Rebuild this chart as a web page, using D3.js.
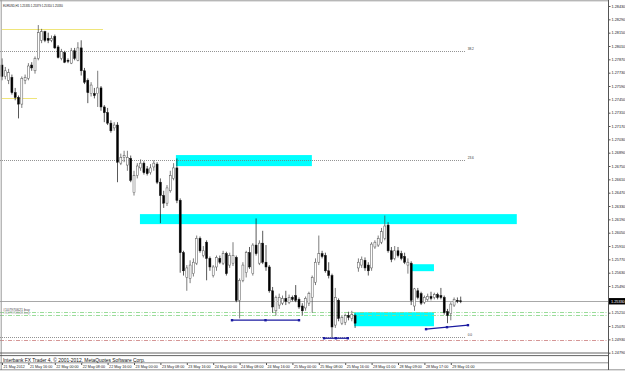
<!DOCTYPE html>
<html>
<head>
<meta charset="utf-8">
<script src="https://cdn.jsdelivr.net/npm/d3@7"></script>
<style>
html, body { margin: 0; padding: 0; background: #fff; }
svg { display: block; font-family: 'Liberation Sans', Arial, sans-serif; }
</style>
</head>
<body>
<svg id="chart"></svg>
<script>
'use strict';

const symbol = 'EURUSD,H1';
const copyright = 'Interbank FX Trader 4, \u00a9 2001-2012, MetaQuotes Software Corp.';

// one label every 8 bars
const timeLabels = ['21 May 2012', '21 May 16:00', '22 May 00:00', '22 May 08:00', '22 May 16:00',
    '23 May 00:00', '23 May 08:00', '23 May 16:00', '24 May 00:00', '24 May 08:00', '24 May 16:00',
    '25 May 00:00', '25 May 08:00', '25 May 16:00', '28 May 01:00', '28 May 09:00', '28 May 17:00',
    '29 May 01:00'];

const opens = [1.2781, 1.2769, 1.2765, 1.2768, 1.2752, 1.2747, 1.2740, 1.2765, 1.2767, 1.2781,
    1.2775, 1.2788, 1.2807, 1.2816, 1.2809, 1.2807, 1.2811, 1.2800, 1.2788, 1.2794,
    1.2786, 1.2783, 1.2796, 1.2786, 1.2799, 1.2775, 1.2765, 1.2751, 1.2751, 1.2751,
    1.2757, 1.2737, 1.2731, 1.2720, 1.2715, 1.2718, 1.2678, 1.2684, 1.2676, 1.2683,
    1.2647, 1.2665, 1.2673, 1.2678, 1.2672, 1.2668, 1.2674, 1.2677, 1.2658, 1.2644,
    1.2636, 1.2649, 1.2662, 1.2673, 1.2639, 1.2584, 1.2558, 1.2557, 1.2562, 1.2573,
    1.2599, 1.2581, 1.2595, 1.2578, 1.2560, 1.2569, 1.2578, 1.2573, 1.2583, 1.2571,
    1.2573, 1.2579, 1.2534, 1.2555, 1.2563, 1.2584, 1.2562, 1.2592, 1.2573, 1.2594,
    1.2574, 1.2569, 1.2544, 1.2523, 1.2529, 1.2531, 1.2536, 1.2532, 1.2537, 1.2539,
    1.2535, 1.2528, 1.2526, 1.2531, 1.2537, 1.2553, 1.2574, 1.2583, 1.2581, 1.2565,
    1.2560, 1.2508, 1.2534, 1.2510, 1.2511, 1.2518, 1.2515, 1.2518, 1.2568, 1.2571,
    1.2576, 1.2571, 1.2568, 1.2590, 1.2592, 1.2595, 1.2599, 1.2613, 1.2586, 1.2578,
    1.2586, 1.2583, 1.2580, 1.2571, 1.2573, 1.2528, 1.2544, 1.2541, 1.2532, 1.2535,
    1.2538, 1.2537, 1.2540, 1.2539, 1.2537, 1.2522, 1.2520, 1.2529, 1.2534, 1.25335];

const highs = [1.2788, 1.2779, 1.2777, 1.2771, 1.2757, 1.2749, 1.2769, 1.2771, 1.2783, 1.2784,
    1.2790, 1.2823, 1.2819, 1.2817, 1.2815, 1.2812, 1.2813, 1.2802, 1.2798, 1.2796,
    1.2788, 1.2799, 1.2799, 1.2805, 1.2807, 1.2778, 1.2767, 1.2763, 1.2757, 1.2775,
    1.2759, 1.2739, 1.2736, 1.2723, 1.2721, 1.2721, 1.2688, 1.2691, 1.2691, 1.2686,
    1.2670, 1.2678, 1.2682, 1.2680, 1.2675, 1.2677, 1.2681, 1.2679, 1.2662, 1.2649,
    1.2655, 1.2670, 1.2678, 1.2683, 1.2641, 1.2586, 1.2571, 1.2576, 1.2578, 1.2602,
    1.2601, 1.2591, 1.2597, 1.2580, 1.2571, 1.2581, 1.2581, 1.2586, 1.2585, 1.2584,
    1.2595, 1.2581, 1.2557, 1.2574, 1.2586, 1.2590, 1.2594, 1.2620, 1.2597, 1.2607,
    1.2592, 1.2571, 1.2548, 1.2539, 1.2541, 1.2539, 1.2544, 1.2540, 1.2539, 1.2550,
    1.2537, 1.2531, 1.2538, 1.2543, 1.2560, 1.2578, 1.2602, 1.2586, 1.2584, 1.2574,
    1.2562, 1.2547, 1.2536, 1.2518, 1.2520, 1.2522, 1.2523, 1.2520, 1.2578, 1.2580,
    1.2579, 1.2574, 1.2595, 1.2597, 1.2602, 1.2610, 1.2623, 1.2616, 1.2590, 1.2591,
    1.2590, 1.2586, 1.2584, 1.2578, 1.2575, 1.2547, 1.2547, 1.2543, 1.2539, 1.2541,
    1.2543, 1.2542, 1.2542, 1.2547, 1.2539, 1.2525, 1.2532, 1.2537, 1.2537, 1.25379];

const lows = [1.2765, 1.2766, 1.2761, 1.2750, 1.2744, 1.2725, 1.2736, 1.2761, 1.2765, 1.2775,
    1.2772, 1.2786, 1.2804, 1.2805, 1.2804, 1.2805, 1.2798, 1.2788, 1.2786, 1.2783,
    1.2783, 1.2782, 1.2786, 1.2785, 1.2770, 1.2761, 1.2741, 1.2748, 1.2746, 1.2737,
    1.2733, 1.2721, 1.2718, 1.2710, 1.2712, 1.2658, 1.2676, 1.2679, 1.2670, 1.2658,
    1.2644, 1.2662, 1.2670, 1.2666, 1.2665, 1.2666, 1.2670, 1.2656, 1.2615, 1.2631,
    1.2633, 1.2647, 1.2660, 1.2636, 1.2563, 1.2560, 1.2544, 1.2552, 1.2559, 1.2571,
    1.2584, 1.2579, 1.2555, 1.2565, 1.2558, 1.2565, 1.2572, 1.2571, 1.2560, 1.2568,
    1.2570, 1.2532, 1.2515, 1.2553, 1.2558, 1.2567, 1.2560, 1.2581, 1.2571, 1.2572,
    1.2565, 1.2542, 1.2521, 1.2518, 1.2525, 1.2529, 1.2529, 1.2530, 1.2533, 1.2532,
    1.2525, 1.2518, 1.2523, 1.2528, 1.2521, 1.2550, 1.2571, 1.2578, 1.2563, 1.2557,
    1.2495, 1.2505, 1.2512, 1.2508, 1.2508, 1.2513, 1.2512, 1.2505, 1.2564, 1.2568,
    1.2565, 1.2560, 1.2565, 1.2588, 1.2590, 1.2593, 1.2597, 1.2584, 1.2574, 1.2576,
    1.2579, 1.2576, 1.2572, 1.2562, 1.2529, 1.2523, 1.2535, 1.2529, 1.2530, 1.2533,
    1.2534, 1.2535, 1.2535, 1.2535, 1.2519, 1.2510, 1.2513, 1.2527, 1.2531, 1.25310];

const closes = [1.2769, 1.2775, 1.2773, 1.2752, 1.2747, 1.2740, 1.2767, 1.2768, 1.2780, 1.2778,
    1.2788, 1.2815, 1.2816, 1.2807, 1.2807, 1.2809, 1.2799, 1.2789, 1.2795, 1.2784,
    1.2785, 1.2796, 1.2788, 1.2799, 1.2775, 1.2763, 1.2752, 1.2760, 1.2749, 1.2757,
    1.2737, 1.2731, 1.2720, 1.2712, 1.2718, 1.2679, 1.2684, 1.2686, 1.2684, 1.2660,
    1.2665, 1.2675, 1.2678, 1.2668, 1.2667, 1.2673, 1.2678, 1.2658, 1.2644, 1.2636,
    1.2652, 1.2665, 1.2673, 1.2639, 1.2584, 1.2565, 1.2568, 1.2571, 1.2574, 1.2599,
    1.2586, 1.2586, 1.2578, 1.2569, 1.2569, 1.2579, 1.2574, 1.2583, 1.2562, 1.2581,
    1.2581, 1.2534, 1.2555, 1.2571, 1.2584, 1.2569, 1.2592, 1.2583, 1.2594, 1.2574,
    1.2569, 1.2544, 1.2527, 1.2537, 1.2537, 1.2536, 1.2533, 1.2537, 1.2535, 1.2534,
    1.2527, 1.2523, 1.2536, 1.2541, 1.2558, 1.2574, 1.2583, 1.2580, 1.2565, 1.2560,
    1.2506, 1.2537, 1.2515, 1.2516, 1.2518, 1.2516, 1.2519, 1.2510, 1.2574, 1.2577,
    1.2568, 1.2565, 1.2593, 1.2595, 1.2599, 1.2606, 1.2612, 1.2586, 1.2577, 1.2586,
    1.2581, 1.2578, 1.2574, 1.2574, 1.2534, 1.2546, 1.2537, 1.2531, 1.2537, 1.2538,
    1.2536, 1.2540, 1.2537, 1.2537, 1.2521, 1.2518, 1.2530, 1.2535, 1.2533, 1.25330];

const priceTicks = [1.28430, 1.28290, 1.28150, 1.28010, 1.27870, 1.27730, 1.27590, 1.27450,
    1.27310, 1.27170, 1.27030, 1.26890, 1.26750, 1.26610, 1.26470, 1.26330, 1.26190, 1.26050,
    1.25910, 1.25770, 1.25630, 1.25490, 1.25350, 1.25210, 1.25070, 1.24930, 1.24790];

// fibonacci retracement
const fibLevels = [0, 23.6, 38.2, 50, 61.8, 100];
const fibLow = 1.2495;
const fibHigh = 1.3283;

// cyan zones: bar index from/to, price top/bottom
const zoneFrom = [52.7, 41.8, 124, 106.7];
const zoneTo = [93.9, 156, 130.9, 130.9];
const zoneTop = [1.26865, 1.26245, 1.25719, 1.25215];
const zoneBottom = [1.26749, 1.26140, 1.25646, 1.25068];

// blue trend lines
const trendFrom = [69.7, 97.6, 128.5];
const trendTo = [90, 104.8, 141.2];
const trendPriceFrom = [1.25131, 1.24942, 1.25037];
const trendPriceTo = [1.25131, 1.24942, 1.25079];

// yellow levels
const yellowPrice = [1.28188, 1.27463];
const yellowTo = [30.6, 10.6];

// open orders
const orderPrices = [1.25215, 1.25184];
const orderLabels = ['#107970621 buy', '#107970648 buy'];
const stopPrice = 1.24921;

(function () {
    const d3 = window.d3;
    const width = 625;
    const height = 371;
    const axisX = 608;
    const svg = d3.select('#chart').attr('width', width).attr('height', height);

    const x = d3.scaleLinear().domain([0, opens.length - 1]).range([2, 2 + (opens.length - 1) * 3.3]);
    const y = d3.scaleLinear().domain([1.24790, 1.28430]).range([352.7, 6]);
    const lastPrice = closes[closes.length - 1];

    svg.append('rect').attr('width', width).attr('height', height).attr('fill', '#fff');

    const plot = svg.append('g');

    // zones
    plot.selectAll('.zone')
        .data(zoneFrom)
        .enter().append('rect')
        .attr('class', 'zone')
        .attr('x', (d, i) => x(d))
        .attr('y', (d, i) => y(zoneTop[i]))
        .attr('width', (d, i) => x(zoneTo[i]) - x(d))
        .attr('height', (d, i) => y(zoneBottom[i]) - y(zoneTop[i]))
        .attr('fill', '#00ffff');

    // yellow levels
    plot.selectAll('.yellow')
        .data(yellowPrice)
        .enter().append('rect')
        .attr('x', x(0))
        .attr('width', (d, i) => x(yellowTo[i]) - x(0))
        .attr('y', d => Math.round(y(d)))
        .attr('height', 1)
        .attr('fill', '#efe57a')
        .attr('shape-rendering', 'crispEdges');

    // fibo levels
    const fibVisible = fibLevels.filter(l => {
        const p = fibLow + l / 100 * (fibHigh - fibLow);
        return p >= y.domain()[0] && p <= y.domain()[1];
    });
    const fibEnd = x(140.5);
    plot.selectAll('.fib')
        .data(fibVisible)
        .enter().append('line')
        .attr('x1', 0)
        .attr('x2', fibEnd)
        .attr('y1', d => Math.round(y(fibLow + d / 100 * (fibHigh - fibLow))) + 0.5)
        .attr('y2', d => Math.round(y(fibLow + d / 100 * (fibHigh - fibLow))) + 0.5)
        .attr('stroke', '#777')
        .attr('stroke-width', 0.8)
        .attr('stroke-dasharray', '1,1');
    plot.selectAll('.fibtext')
        .data(fibVisible)
        .enter().append('text')
        .attr('x', fibEnd + 2)
        .attr('y', d => y(fibLow + d / 100 * (fibHigh - fibLow)) - 1)
        .attr('font-size', '3.2px')
        .attr('fill', '#333')
        .text(d => d3.format('.1f')(d));

    // order & stop lines
    plot.selectAll('.order')
        .data(orderPrices)
        .enter().append('line')
        .attr('x1', 0)
        .attr('x2', axisX)
        .attr('y1', d => Math.round(y(d)) + 0.5)
        .attr('y2', d => Math.round(y(d)) + 0.5)
        .attr('stroke', '#8fd88f')
        .attr('stroke-width', 0.9)
        .attr('stroke-dasharray', '4,1.5,1,1.5');
    plot.selectAll('.ordertext')
        .data(orderPrices)
        .enter().append('text')
        .attr('x', 3)
        .attr('y', (d, i) => y(d) - 0.8 - i * 0.4)
        .attr('font-size', '3.6px')
        .attr('fill', (d, i) => i === 0 ? '#444' : '#999')
        .text((d, i) => orderLabels[i]);
    plot.append('line')
        .attr('x1', 0).attr('x2', axisX)
        .attr('y1', Math.round(y(stopPrice)) + 0.5).attr('y2', Math.round(y(stopPrice)) + 0.5)
        .attr('stroke', '#d08a8a')
        .attr('stroke-width', 0.9)
        .attr('stroke-dasharray', '4,1.5,1,1.5');

    // bid line
    plot.append('line')
        .attr('x1', 0).attr('x2', axisX)
        .attr('y1', Math.round(y(lastPrice)) + 0.5).attr('y2', Math.round(y(lastPrice)) + 0.5)
        .attr('stroke', '#a8a8a8')
        .attr('stroke-width', 1);

    // candles
    const bars = plot.selectAll('.bar')
        .data(d3.range(opens.length))
        .enter().append('g')
        .attr('class', 'bar');
    bars.append('line')
        .attr('x1', i => x(i)).attr('x2', i => x(i))
        .attr('y1', i => y(highs[i])).attr('y2', i => y(lows[i]))
        .attr('stroke', i => closes[i] >= opens[i] ? '#444' : '#111')
        .attr('stroke-width', 0.7);
    bars.append('rect')
        .attr('x', i => x(i) - 1)
        .attr('y', i => y(Math.max(opens[i], closes[i])))
        .attr('width', 2)
        .attr('height', i => Math.max(Math.abs(y(opens[i]) - y(closes[i])), 0.7))
        .attr('fill', i => closes[i] >= opens[i] ? '#fff' : '#000')
        .attr('stroke', i => closes[i] >= opens[i] ? '#555' : '#111')
        .attr('stroke-width', 0.5);

    // trend lines
    plot.selectAll('.trend')
        .data(trendFrom)
        .enter().append('line')
        .attr('x1', d => x(d))
        .attr('x2', (d, i) => x(trendTo[i]))
        .attr('y1', (d, i) => y(trendPriceFrom[i]))
        .attr('y2', (d, i) => y(trendPriceTo[i]))
        .attr('stroke', '#1a1aa0')
        .attr('stroke-width', 1.3);
    const handles = [];
    trendFrom.forEach((d, i) => {
        [0, 0.5, 1].forEach(t => handles.push({
            i: d + t * (trendTo[i] - d),
            p: trendPriceFrom[i] + t * (trendPriceTo[i] - trendPriceFrom[i])
        }));
    });
    plot.selectAll('.handle')
        .data(handles)
        .enter().append('rect')
        .attr('x', d => x(d.i) - 1.2)
        .attr('y', d => y(d.p) - 1.2)
        .attr('width', 2.4)
        .attr('height', 2.4)
        .attr('fill', '#1a1aa0');

    // frame
    svg.append('line').attr('x1', 0).attr('x2', axisX).attr('y1', 0.8).attr('y2', 0.8)
        .attr('stroke', '#999').attr('stroke-width', 1);
    svg.append('line').attr('x1', 1.2).attr('x2', 1.2).attr('y1', 0).attr('y2', 370)
        .attr('stroke', '#999').attr('stroke-width', 1);
    [353, 355.6].forEach(v => svg.append('line')
        .attr('x1', 0).attr('x2', axisX).attr('y1', v).attr('y2', v)
        .attr('stroke', '#555').attr('stroke-width', 0.9));
    svg.append('line').attr('x1', 0).attr('x2', axisX).attr('y1', 362.8).attr('y2', 362.8)
        .attr('stroke', '#777').attr('stroke-width', 0.8);
    svg.append('line').attr('x1', 0).attr('x2', width).attr('y1', 369.8).attr('y2', 369.8)
        .attr('stroke', '#777').attr('stroke-width', 0.8);

    // price axis
    const yAxis = d3.axisRight(y)
        .tickValues(priceTicks.filter(p => Math.abs(y(p) - y(lastPrice)) > 5))
        .tickFormat(d3.format('.5f'))
        .tickSize(2)
        .tickPadding(1);
    const ya = svg.append('g')
        .attr('transform', 'translate(' + (axisX + 0.5) + ',0)')
        .call(yAxis);
    ya.select('.domain').attr('d', 'M0,0V370').attr('stroke', '#555');
    ya.selectAll('line').attr('stroke', '#555');
    ya.selectAll('text').attr('font-size', '3.8px').attr('fill', '#222')
        .attr('font-family', "'Liberation Sans', Arial, sans-serif");

    // last price box
    svg.append('rect')
        .attr('x', axisX + 1).attr('y', y(lastPrice) - 3.2)
        .attr('width', width - axisX).attr('height', 6.4)
        .attr('fill', '#000');
    svg.append('text')
        .attr('x', axisX + 3).attr('y', y(lastPrice) + 1.3)
        .attr('font-size', '3.8px').attr('fill', '#fff')
        .text(d3.format('.5f')(lastPrice));

    // time axis
    const xAxis = d3.axisBottom(x)
        .tickValues(timeLabels.map((d, i) => i * 8))
        .tickFormat((d, i) => timeLabels[i])
        .tickSize(2)
        .tickPadding(0.5);
    const xa = svg.append('g')
        .attr('transform', 'translate(0,363)')
        .call(xAxis);
    xa.select('.domain').remove();
    xa.selectAll('line').attr('stroke', '#555');
    xa.selectAll('text')
        .attr('text-anchor', 'start')
        .attr('x', 1)
        .attr('font-size', '3.7px')
        .attr('fill', '#222')
        .attr('font-family', "'Liberation Sans', Arial, sans-serif");

    // header & copyright
    svg.append('text')
        .attr('x', 3).attr('y', 6.5)
        .attr('font-size', '2.8px').attr('fill', '#111')
        .text(symbol + '  ' + [opens, highs, lows, closes]
            .map(a => d3.format('.5f')(a[a.length - 1])).join(' '));
    svg.append('text')
        .attr('x', 3).attr('y', 361.6)
        .attr('font-size', '4.9px').attr('fill', '#111')
        .text(copyright);
}());
</script>
</body>
</html>
